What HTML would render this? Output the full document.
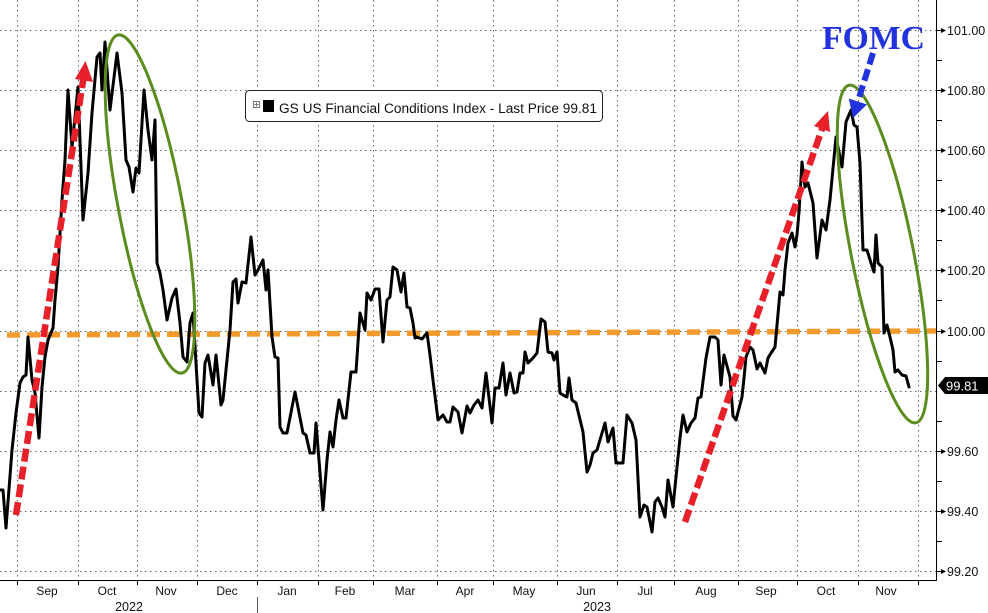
<!DOCTYPE html>
<html>
<head>
<meta charset="utf-8">
<style>
html,body{margin:0;padding:0;background:#fff;}
svg{display:block;}
text{font-family:"Liberation Sans",sans-serif;}
</style>
</head>
<body>
<svg width="988" height="613" viewBox="0 0 988 613" xmlns="http://www.w3.org/2000/svg">
<rect width="988" height="613" fill="#fff"/>
<!-- grid -->
<g stroke="#666" stroke-width="1" stroke-dasharray="1.5,3.5" fill="none">
<line x1="0" y1="30.5" x2="937" y2="30.5"/>
<line x1="0" y1="90.5" x2="937" y2="90.5"/>
<line x1="0" y1="150.5" x2="937" y2="150.5"/>
<line x1="0" y1="210.5" x2="937" y2="210.5"/>
<line x1="0" y1="270.5" x2="937" y2="270.5"/>
<line x1="0" y1="331.5" x2="937" y2="331.5"/>
<line x1="0" y1="391.5" x2="937" y2="391.5"/>
<line x1="0" y1="451.5" x2="937" y2="451.5"/>
<line x1="0" y1="511.5" x2="937" y2="511.5"/>
<line x1="0" y1="571.5" x2="937" y2="571.5"/>
<line x1="17.5" y1="0" x2="17.5" y2="580"/>
<line x1="78.5" y1="0" x2="78.5" y2="580"/>
<line x1="137.5" y1="0" x2="137.5" y2="580"/>
<line x1="197.5" y1="0" x2="197.5" y2="580"/>
<line x1="257.5" y1="0" x2="257.5" y2="580"/>
<line x1="318.5" y1="0" x2="318.5" y2="580"/>
<line x1="373.5" y1="0" x2="373.5" y2="580"/>
<line x1="437.5" y1="0" x2="437.5" y2="580"/>
<line x1="493.5" y1="0" x2="493.5" y2="580"/>
<line x1="557.5" y1="0" x2="557.5" y2="580"/>
<line x1="617.5" y1="0" x2="617.5" y2="580"/>
<line x1="674.5" y1="0" x2="674.5" y2="580"/>
<line x1="738.5" y1="0" x2="738.5" y2="580"/>
<line x1="797.5" y1="0" x2="797.5" y2="580"/>
<line x1="858.5" y1="0" x2="858.5" y2="580"/>
<line x1="918.5" y1="0" x2="918.5" y2="580"/>
</g>

<!-- legend -->
<rect x="245.5" y="90.5" width="357" height="31" rx="4" ry="4" fill="#fff" stroke="#222" stroke-width="1"/>
<rect x="253.5" y="101.5" width="6" height="6" fill="#fff" stroke="#777" stroke-width="1"/>
<line x1="254.5" y1="104.5" x2="258.5" y2="104.5" stroke="#777" stroke-width="1"/>
<line x1="256.5" y1="102.5" x2="256.5" y2="106.5" stroke="#777" stroke-width="1"/>
<rect x="263" y="100" width="11" height="12" fill="#000"/>
<text x="279" y="113" font-size="13.5" fill="#111" textLength="318" lengthAdjust="spacingAndGlyphs">GS US Financial Conditions Index - Last Price 99.81</text>

<!-- orange dashed level -->
<line x1="7" y1="335" x2="937" y2="331" stroke="#f39a2c" stroke-width="5.5" stroke-dasharray="13,7"/>

<!-- series -->
<polyline fill="none" stroke="#000" stroke-width="3" stroke-linejoin="round" stroke-linecap="round" points="
0,490 3,490 6,528 12,450 16,413 20,383 23,377 26,375 28,337 32,380 35,393 39,438 42,387 45,357 48,340 53,328 55,300 58,267 62,200 65,160 68,90 72,147 78,87 83,220 88,173 92,113 97,57 100,53 102,90 105,42 110,110 117,53 122,93 126,160 129,167 133,192 136,168 139,173 144,90 148,130 152,160 155,120 157,263 160,273 163,290 167,320 172,298 176,289 180,323 183,357 187,362 190,323 193,313 199,413 202,417 205,363 208,355 213,385 216,355 221,405 223,400 230,330 233,282 236,279 238,303 242,282 246,283 251,237 255,275 258,270 263,260 266,290 268,270 272,337 275,357 278,358 280,427 283,433 287,433 295,392 303,433 306,435 310,453 314,453 316,423 323,510 327,460 330,432 333,447 336,420 339,400 343,418 346,418 351,372 356,372 360,313 365,330 367,293 371,300 375,289 379,289 383,342 387,300 390,297 393,267 397,270 401,292 404,273 407,307 410,308 413,323 415,338 417,337 422,339 427,333 430,355 433,380 438,420 443,415 447,422 450,422 453,407 458,412 462,433 467,406 470,413 474,405 478,400 482,408 486,373 492,423 495,388 499,388 503,363 506,395 510,373 514,393 517,392 520,373 523,373 525,352 528,363 533,358 537,353 541,319 545,322 548,352 552,353 554,360 557,352 560,393 563,395 567,397 569,378 572,400 576,403 583,432 587,472 590,465 593,453 597,450 605,423 608,442 613,428 616,463 623,463 627,415 632,423 636,440 640,517 644,505 647,507 652,532 655,502 658,498 662,507 665,517 668,480 673,507 675,487 680,438 683,415 687,432 691,423 695,418 698,398 701,397 706,358 710,337 715,337 718,340 721,385 724,355 730,377 733,416 736,420 742,397 744,378 746,357 750,347 753,350 757,369 760,363 765,373 768,358 771,353 775,347 777,325 780,292 783,295 785,270 788,243 792,233 795,247 797,235 799,212 802,162 805,187 808,183 813,203 817,258 822,220 826,230 830,200 836,137 842,167 846,122 851,110 854,125 857,127 860,163 863,250 867,250 871,263 874,272 876,235 878,263 882,267 884,333 887,325 890,337 893,350 895,372 898,370 902,375 906,376 909,387"/>

<!-- green ellipses -->
<ellipse cx="150" cy="204" rx="32" ry="172" transform="rotate(-10.7 150 204)" fill="none" stroke="#5b8c1f" stroke-width="3"/>
<ellipse cx="882.5" cy="254" rx="31" ry="172" transform="rotate(-11.2 882.5 254)" fill="none" stroke="#5b8c1f" stroke-width="3"/>

<!-- red arrows -->
<line x1="16" y1="515" x2="83.2" y2="79.8" stroke="#e8202a" stroke-width="6.5" stroke-dasharray="13,5"/>
<polygon points="85.5,61 75,79 93,82" fill="#e8202a"/>
<line x1="685" y1="522" x2="822" y2="129" stroke="#e8202a" stroke-width="6.5" stroke-dasharray="13,5"/>
<polygon points="828,111 814,126 830,132" fill="#e8202a"/>

<!-- blue arrow -->
<line x1="873" y1="53" x2="857.8" y2="101.7" stroke="#2233dd" stroke-width="6" stroke-dasharray="12,5"/>
<polygon points="853,118 848.8,98.5 867,104.5" fill="#2233dd"/>
<text x="822" y="49" font-weight="bold" font-size="34" fill="#2233dd" textLength="103" lengthAdjust="spacingAndGlyphs" style="font-family:'Liberation Serif',serif">FOMC</text>

<!-- axes -->
<line x1="0" y1="580.5" x2="937" y2="580.5" stroke="#000" stroke-width="1"/>
<line x1="936.5" y1="0" x2="936.5" y2="581" stroke="#000" stroke-width="1"/>

<!-- bottom ticks -->
<g stroke="#000" stroke-width="1">
<line x1="17.5" y1="580" x2="17.5" y2="585"/>
<line x1="78.5" y1="580" x2="78.5" y2="585"/>
<line x1="137.5" y1="580" x2="137.5" y2="585"/>
<line x1="197.5" y1="580" x2="197.5" y2="585"/>
<line x1="257.5" y1="580" x2="257.5" y2="585"/>
<line x1="318.5" y1="580" x2="318.5" y2="585"/>
<line x1="373.5" y1="580" x2="373.5" y2="585"/>
<line x1="437.5" y1="580" x2="437.5" y2="585"/>
<line x1="493.5" y1="580" x2="493.5" y2="585"/>
<line x1="557.5" y1="580" x2="557.5" y2="585"/>
<line x1="617.5" y1="580" x2="617.5" y2="585"/>
<line x1="674.5" y1="580" x2="674.5" y2="585"/>
<line x1="738.5" y1="580" x2="738.5" y2="585"/>
<line x1="797.5" y1="580" x2="797.5" y2="585"/>
<line x1="858.5" y1="580" x2="858.5" y2="585"/>
<line x1="918.5" y1="580" x2="918.5" y2="585"/>
<line x1="257.5" y1="597" x2="257.5" y2="613" stroke="#555"/>
</g>

<g font-size="12" fill="#111" text-anchor="middle">
<text x="47" y="595">Sep</text>
<text x="107" y="595">Oct</text>
<text x="166" y="595">Nov</text>
<text x="227" y="595">Dec</text>
<text x="287" y="595">Jan</text>
<text x="345" y="595">Feb</text>
<text x="405" y="595">Mar</text>
<text x="465" y="595">Apr</text>
<text x="524" y="595">May</text>
<text x="586" y="595">Jun</text>
<text x="645" y="595">Jul</text>
<text x="706" y="595">Aug</text>
<text x="766" y="595">Sep</text>
<text x="826" y="595">Oct</text>
<text x="886" y="595">Nov</text>
<text x="129" y="611" font-size="12.5">2022</text>
<text x="597" y="611" font-size="12.5">2023</text>
</g>

<!-- right axis ticks -->
<g stroke="#000" stroke-width="1">
<line x1="937" y1="60.5" x2="942" y2="60.5"/>
<line x1="937" y1="120.5" x2="942" y2="120.5"/>
<line x1="937" y1="180.5" x2="942" y2="180.5"/>
<line x1="937" y1="240.5" x2="942" y2="240.5"/>
<line x1="937" y1="300.5" x2="942" y2="300.5"/>
<line x1="937" y1="361.5" x2="942" y2="361.5"/>
<line x1="937" y1="421.5" x2="942" y2="421.5"/>
<line x1="937" y1="481.5" x2="942" y2="481.5"/>
<line x1="937" y1="541.5" x2="942" y2="541.5"/>
<line x1="937" y1="30.5" x2="943" y2="30.5"/>
<line x1="937" y1="90.5" x2="943" y2="90.5"/>
<line x1="937" y1="150.5" x2="943" y2="150.5"/>
<line x1="937" y1="210.5" x2="943" y2="210.5"/>
<line x1="937" y1="270.5" x2="943" y2="270.5"/>
<line x1="937" y1="331.5" x2="943" y2="331.5"/>
<line x1="937" y1="451.5" x2="943" y2="451.5"/>
<line x1="937" y1="511.5" x2="943" y2="511.5"/>
<line x1="937" y1="571.5" x2="943" y2="571.5"/>
</g>
<g fill="#000">
<polygon points="941,28 946,30.5 941,33"/>
<polygon points="941,88 946,90.5 941,93"/>
<polygon points="941,148 946,150.5 941,153"/>
<polygon points="941,208 946,210.5 941,213"/>
<polygon points="941,268 946,270.5 941,273"/>
<polygon points="941,329 946,331.5 941,334"/>
<polygon points="941,449 946,451.5 941,454"/>
<polygon points="941,509 946,511.5 941,514"/>
<polygon points="941,569 946,571.5 941,574"/>
</g>
<g font-size="12.5" fill="#111">
<text x="947" y="35">101.00</text>
<text x="947" y="95">100.80</text>
<text x="947" y="155">100.60</text>
<text x="947" y="215">100.40</text>
<text x="947" y="275">100.20</text>
<text x="947" y="336">100.00</text>
<text x="947" y="456">99.60</text>
<text x="947" y="516">99.40</text>
<text x="947" y="576">99.20</text>
</g>

<!-- last price label -->
<path d="M938,385.5 L945,377 L988,377 L988,394 L945,394 Z" fill="#000"/>
<text x="946" y="390.5" font-size="13" fill="#fff">99.81</text>
</svg>
</body>
</html>
